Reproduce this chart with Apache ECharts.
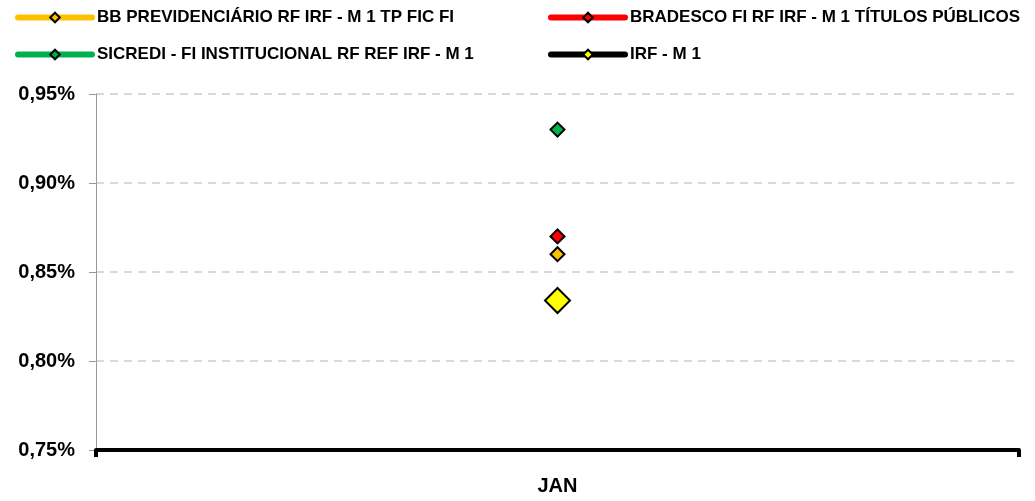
<!DOCTYPE html>
<html><head><meta charset="utf-8">
<script src="https://cdn.jsdelivr.net/npm/echarts@6/dist/echarts.min.js"></script>
<style>html,body{margin:0;padding:0;background:#fff}#c{width:1035px;height:501px}</style>
</head><body><div id="c"></div>
<script>
const categories = ['JAN'];
const seriesNames = ['BB PREVIDENCIÁRIO RF IRF - M 1 TP FIC FI','BRADESCO FI RF IRF - M 1 TÍTULOS PÚBLICOS','SICREDI - FI INSTITUCIONAL RF REF IRF - M 1','IRF - M 1'];
const bbValues = [0.86];
const bradescoValues = [0.87];
const sicrediValues = [0.93];
const irfValues = [0.834];
const yTicks = [0.75, 0.80, 0.85, 0.90, 0.95];

const FONT = 'Liberation Sans';
const chart = echarts.init(document.getElementById('c'), null, {renderer:'canvas'});
function mk(name, data, lineColor, fill, size){
  return {name, type:'line', data, symbol:'diamond', symbolSize:size,
    lineStyle:{color:lineColor, width:5},
    itemStyle:{color:fill, borderColor:'#000', borderWidth:2}};
}
const legendCommon = {orient:'vertical', itemWidth:74, itemHeight:12, itemGap:20,
  textStyle:{fontFamily:FONT, fontWeight:'bold', fontSize:17, color:'#000'},
  lineStyle:{width:6, cap:'round'}, selectedMode:false};
chart.setOption({
  animation:false,
  legend:[
    Object.assign({left:10, top:4, data:[seriesNames[0], seriesNames[2]]}, legendCommon),
    Object.assign({left:543, top:4, data:[seriesNames[1], seriesNames[3]]}, legendCommon)
  ],
  grid:{left:96, right:16, top:94, bottom:51},
  xAxis:{type:'category', data:categories, boundaryGap:true,
    axisLine:{lineStyle:{color:'#000', width:4}},
    axisTick:{show:true, length:7, lineStyle:{color:'#000', width:4}},
    axisLabel:{fontFamily:FONT, fontWeight:'bold', fontSize:20, color:'#000', margin:26}},
  yAxis:{type:'value', min:yTicks[0], max:yTicks[yTicks.length-1], interval:0.05,
    axisLine:{show:true, lineStyle:{color:'#999', width:1}},
    axisTick:{show:true, length:7, lineStyle:{color:'#999'}},
    splitLine:{lineStyle:{color:'#d9d9d9', type:[8,6], width:2}},
    axisLabel:{fontFamily:FONT, fontWeight:'bold', fontSize:20, color:'#000', margin:21,
      formatter:v=>v.toFixed(2).replace('.',',')+'%'}},
  series:[
    mk(seriesNames[0], bbValues, '#ffc000', '#ffc000', 14),
    mk(seriesNames[1], bradescoValues, '#ff0000', '#ff0000', 14),
    mk(seriesNames[2], sicrediValues, '#00b050', '#00b050', 14),
    mk(seriesNames[3], irfValues, '#000000', '#ffff00', 25)
  ]
});
</script></body></html>
